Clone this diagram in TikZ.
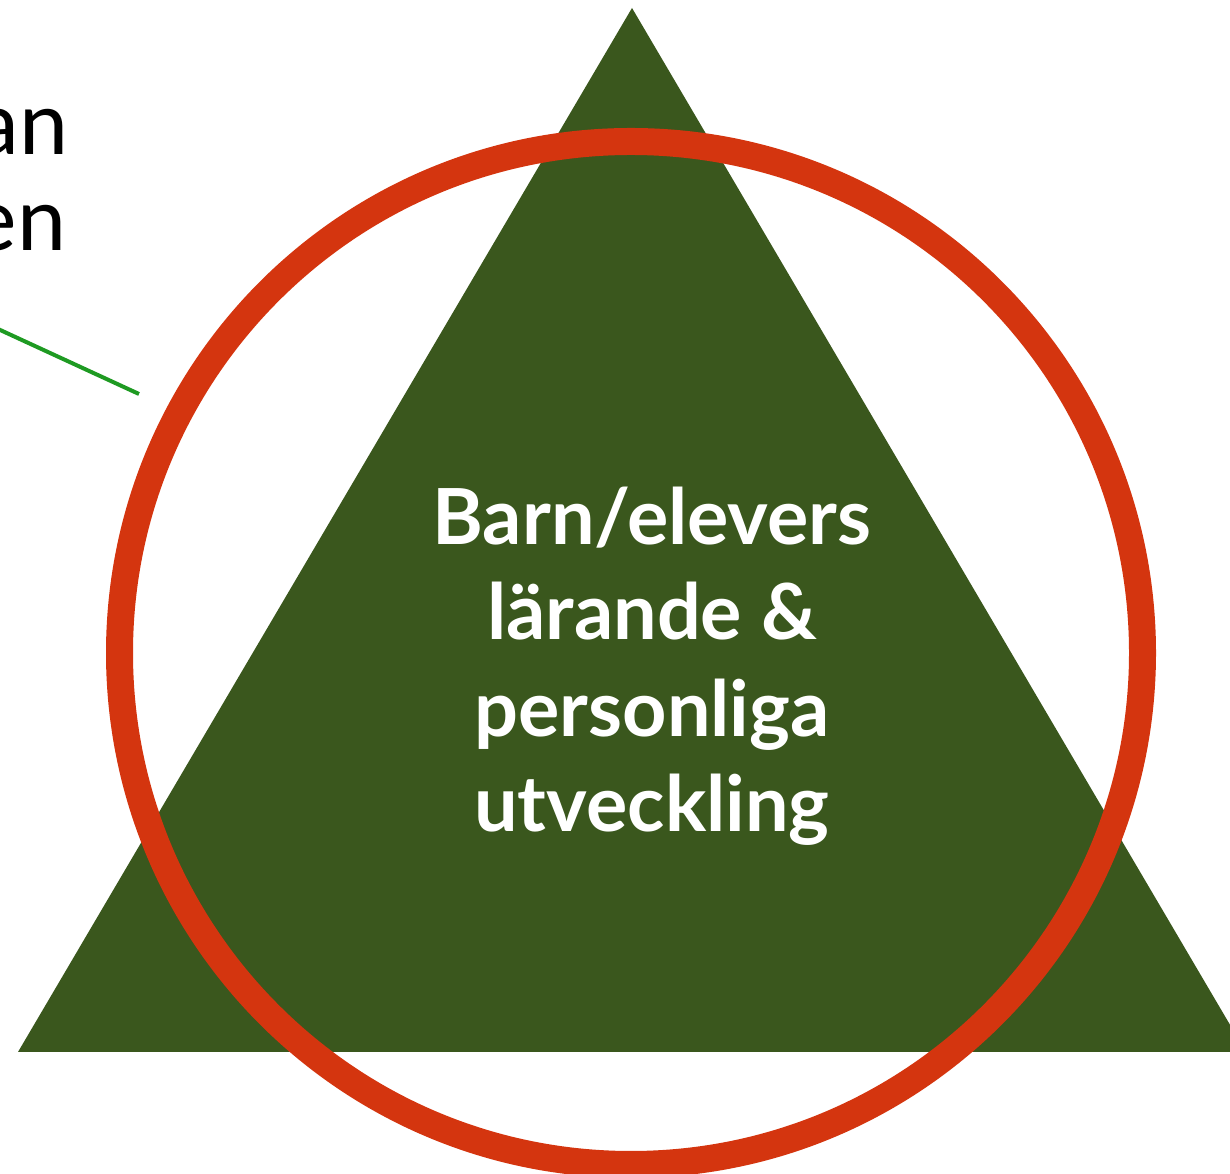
\documentclass[tikz,border=0pt]{standalone}
\usepackage{fontspec}
\setmainfont{Lato}
\definecolor{tri}{HTML}{3A571D}
\definecolor{ring}{HTML}{D4350F}
\definecolor{lineg}{HTML}{1E9A22}
\begin{document}
\begin{tikzpicture}[x=0.01cm,y=-0.01cm,
  centertext/.style={text=white,font=\bfseries\fontsize{22}{26}\selectfont,anchor=base,inner sep=0pt},
  sidetext/.style={text=black,font=\fontsize{25}{28}\selectfont,anchor=base east,inner sep=0pt}]
\useasboundingbox (0,0) rectangle (1230,1174);
\clip (0,0) rectangle (1230,1174);
\fill[tri] (632,8) -- (1246,1052) -- (18,1052) -- cycle;
\draw[ring,line width=27*0.01cm] (631,653) circle (511.5);
\node[centertext] (l1) at (652,545) {Barn/elevers};
\node[centertext] (l2) at (652,640) {lärande \&};
\node[centertext] (l3) at (652,737) {personliga};
\node[centertext] (l4) at (652,832) {utveckling};
\node[sidetext] (t1) at (69,155) {an};
\node[sidetext] (t2) at (67,251) {en};
\coordinate (g1) at (-2,329);
\coordinate (g2) at (139,394);
\draw[lineg,line width=4*0.01cm] (g1) -- (g2);
\end{tikzpicture}
\end{document}
